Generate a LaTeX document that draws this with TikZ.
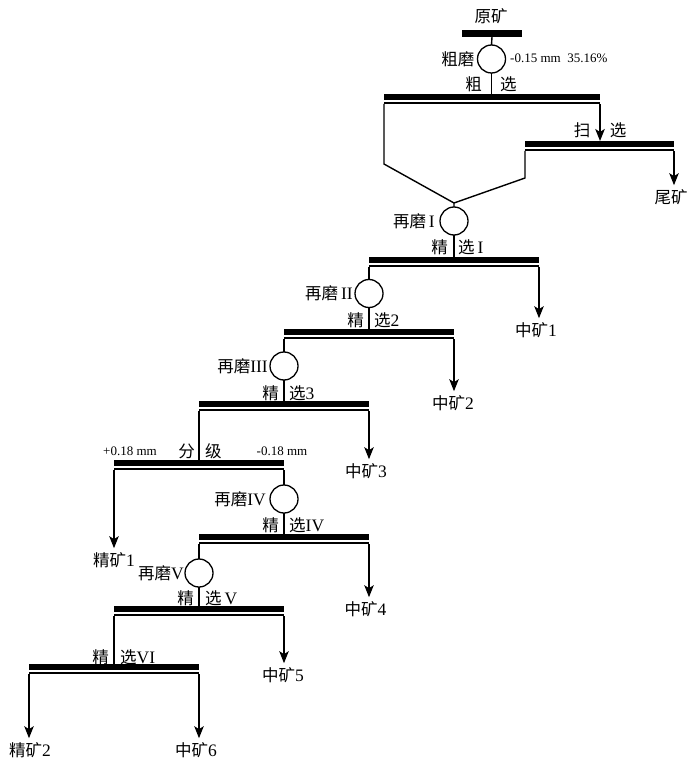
\documentclass[tikz,border=0pt]{standalone}
\usepackage{fontspec}
\setmainfont{Liberation Serif}
\newfontfamily\cjk{Noto Sans CJK SC}
\usetikzlibrary{arrows.meta}
\newcommand\lat[1]{{\rmfamily\fontsize{17.5pt}{17.5pt}\selectfont #1}}
\begin{document}
\begin{tikzpicture}[x=1pt,y=-1pt,
  ln/.style={line width=1.4pt},
  tip/.style={-{Stealth[length=12pt,width=9.5pt,inset=3pt]}},
  arr/.style={ln,tip,shorten >=4pt},
  arrbar/.style={ln,tip},
  bar/.style={minimum height=10pt, minimum width=#1, inner sep=0pt, outer sep=0pt, fill=white,
     path picture={\fill[black] (path picture bounding box.north west) rectangle ([yshift=-6pt]path picture bounding box.north east);
     \fill[black] ([yshift=1.6pt]path picture bounding box.south west) rectangle (path picture bounding box.south east);}},
  feedbar/.style={fill=black, minimum width=60pt, minimum height=6.5pt, inner sep=0pt, outer sep=0pt},
  mill/.style={circle, draw, line width=1.3pt, minimum size=28pt, inner sep=0pt, outer sep=0pt},
  cn/.style={font=\cjk\fontsize{16.5pt}{16.5pt}\selectfont, inner sep=0pt},
  sm/.style={font=\rmfamily\fontsize{13pt}{13pt}\selectfont, inner sep=0pt},
]
\useasboundingbox (0,0) rectangle (700,767);

% ---- feed and roughing
\node[cn] (t0) at (491,16) {原矿};
\node[feedbar] (b0) at (492,33.5) {};
\node[mill] (c0) at (491.5,59) {};
\node[cn, anchor=east] (l0) at ([xshift=-3pt]c0.west) {粗磨};
\node[sm, anchor=west] (s0) at (510,58) {-0.15 mm\ \ 35.16\%};
\node[cn, anchor=east] (r1a) at (482,84) {粗};
\node[cn, anchor=west] (r1b) at (500,84) {选};
\node[bar=216pt] (b1) at (492,99) {};

% ---- scavenging
\node[bar=149pt] (b2) at (599.5,146) {};
\node[cn] (sa) at (582,130) {扫};
\node[cn] (sb) at (618,130) {选};
\node[cn] (tail) at (671,197) {尾矿};

\coordinate (k1) at (384,164);
\coordinate (k2) at (525,178);
\coordinate (apex) at (454,203);

% ---- cleaning I
\node[mill] (c1) at (454,221) {};
\node[cn, anchor=east] (l1) at ([xshift=-5pt]c1.west) {再磨\lat{\,I}};
\node[cn, anchor=east] (p1a) at (448,247) {精};
\node[cn, anchor=west] (p1b) at (458,247) {选\lat{\,I}};
\node[bar=170pt] (b3) at (454,262) {};
\node[cn] (m1) at (536,330) {中矿\lat{1}};

% ---- cleaning 2
\node[mill] (c2) at (369,293.5) {};
\node[cn, anchor=east] (l2) at ([xshift=-2pt]c2.west) {再磨\lat{\,II}};
\node[cn, anchor=east] (p2a) at (364,320) {精};
\node[cn, anchor=west] (p2b) at (374,320) {选\lat{2}};
\node[bar=170pt] (b4) at (369,334) {};
\node[cn] (m2) at (453,403) {中矿\lat{2}};

% ---- cleaning 3
\node[mill] (c3) at (284,366) {};
\node[cn, anchor=east] (l3) at ([xshift=-2pt]c3.west) {再磨\lat{III}};
\node[cn, anchor=east] (p3a) at (279,393) {精};
\node[cn, anchor=west] (p3b) at (289,393) {选\lat{3}};
\node[bar=170pt] (b5) at (284,406) {};
\node[cn] (m3) at (366,471) {中矿\lat{3}};

% ---- classification
\node[cn, anchor=east] (g1) at (195,451) {分};
\node[cn, anchor=west] (g2) at (205,451) {级};
\node[sm] (gp) at (130,451) {+0.18 mm};
\node[sm] (gm) at (282,451) {-0.18 mm};
\node[bar=170pt] (b6) at (199,465) {};
\node[cn] (j1) at (114,560) {精矿\lat{1}};

% ---- cleaning IV
\node[mill] (c4) at (284,499) {};
\node[cn, anchor=east] (l4) at ([xshift=-4pt]c4.west) {再磨\lat{IV}};
\node[cn, anchor=east] (p4a) at (279,525) {精};
\node[cn, anchor=west] (p4b) at (289,525) {选\lat{IV}};
\node[bar=170pt] (b7) at (284,539) {};
\node[cn] (m4) at (365.5,609) {中矿\lat{4}};

% ---- cleaning V
\node[mill] (c5) at (199,573) {};
\node[cn, anchor=east] (l5) at ([xshift=-1pt]c5.west) {再磨\lat{V}};
\node[cn, anchor=east] (p5a) at (194,598) {精};
\node[cn, anchor=west] (p5b) at (205,598) {选\lat{\,V}};
\node[bar=170pt] (b8) at (199,611) {};
\node[cn] (m5) at (283,675) {中矿\lat{5}};

% ---- cleaning VI
\node[cn, anchor=east] (p6a) at (109,657) {精};
\node[cn, anchor=west] (p6b) at (120,657) {选\lat{VI}};
\node[bar=170pt] (b9) at (114,669) {};
\node[cn] (j2) at (30,750) {精矿\lat{2}};
\node[cn] (m6) at (196,750) {中矿\lat{6}};

% ---- connectors
\draw[ln] (b0.south) -- (c0.north);
\draw[ln] (c0.south) -- (c0.south |- b1.north);
\draw[arrbar] (b1.south east) -- (b1.south east |- b2.north);
\draw[ln] (b1.south west) -- (k1) -- (apex) -- (c1.north);
\draw[ln] (b2.south west) -- (k2) -- (apex);
\draw[arr] (b2.south east) -- (b2.south east |- tail.north);

\draw[ln] (c1.south) -- (c1.south |- b3.north);
\draw[ln] (b3.south west) -- (c2.north);
\draw[arr] (b3.south east) -- (b3.south east |- m1.north);

\draw[ln] (c2.south) -- (c2.south |- b4.north);
\draw[ln] (b4.south west) -- (c3.north);
\draw[arr] (b4.south east) -- (b4.south east |- m2.north);

\draw[ln] (c3.south) -- (c3.south |- b5.north);
\draw[ln] (b5.south west) -- (b5.south west |- b6.north);
\draw[arr] (b5.south east) -- (b5.south east |- m3.north);

\draw[arr] (b6.south west) -- (b6.south west |- j1.north);
\draw[ln] (b6.south east) -- (c4.north);

\draw[ln] (c4.south) -- (c4.south |- b7.north);
\draw[ln] (b7.south west) -- (c5.north);
\draw[arr] (b7.south east) -- (b7.south east |- m4.north);

\draw[ln] (c5.south) -- (c5.south |- b8.north);
\draw[ln] (b8.south west) -- (b8.south west |- b9.north);
\draw[arr] (b8.south east) -- (b8.south east |- m5.north);

\draw[arr] (b9.south west) -- (b9.south west |- j2.north);
\draw[arr] (b9.south east) -- (b9.south east |- m6.north);
\end{tikzpicture}
\end{document}
